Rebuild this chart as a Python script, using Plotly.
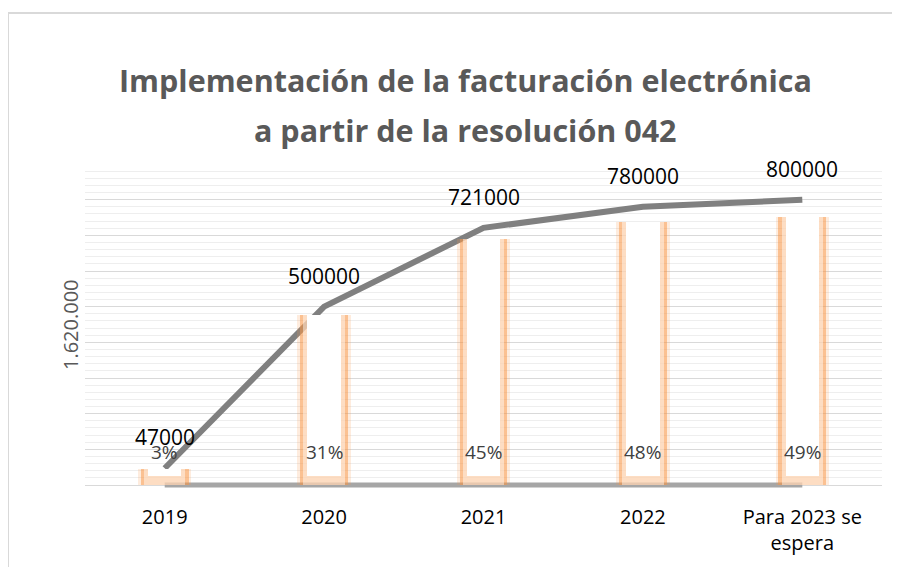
import plotly.graph_objects as go

categories = ["2019", "2020", "2021", "2022", "Para 2023 se<br>espera"]
invoices = [47000, 500000, 721000, 780000, 800000]
share_pct = [0.03, 0.31, 0.45, 0.48, 0.49]
share_labels = ["3%", "31%", "45%", "48%", "49%"]
baseline_vals = [0, 0, 0, 0, 0]
title_lines = ["Implementación de la facturación electrónica",
               "a partir de la resolución 042"]
y_title = "1.620.000"

font_main = "Open Sans, Calibri, Carlito, DejaVu Sans, sans-serif"

# plot area in page px 85..882 x 164..489 (zero level at 485)
PX0, PX1, PY0, PY1 = 85, 882, 164, 489


def px(x):
    return (x - PX0) / (PX1 - PX0)


def py(y):
    return (PY1 - y) / (PY1 - PY0)


fig = go.Figure()

# soft orange glow bars
fig.add_trace(go.Bar(
    x=categories, y=share_pct, yaxis="y2", width=0.335,
    marker=dict(color="rgba(247,150,70,0.18)", line=dict(width=0)),
    hoverinfo="skip", showlegend=False,
))
fig.add_trace(go.Bar(
    x=categories, y=share_pct, yaxis="y2", width=0.30,
    marker=dict(color="rgba(247,150,70,0.5)", line=dict(width=0)),
    hoverinfo="skip", showlegend=False,
))
fig.add_trace(go.Bar(
    x=categories, y=share_pct, yaxis="y2", width=0.26,
    marker=dict(color="rgba(255,255,255,0.45)", line=dict(width=0)),
    hoverinfo="skip", showlegend=False,
))
inner_base = 0.016
fig.add_trace(go.Bar(
    x=categories, y=[v - inner_base for v in share_pct], base=inner_base,
    yaxis="y2", width=0.21,
    marker=dict(color="white", line=dict(width=0)),
    hoverinfo="skip", showlegend=False,
))

# grey baseline series
fig.add_trace(go.Scatter(
    x=categories, y=baseline_vals, mode="lines",
    line=dict(color="#A6A6A6", width=5), showlegend=False, hoverinfo="skip",
))

# count line
fig.add_trace(go.Scatter(
    x=categories, y=invoices, mode="lines",
    line=dict(color="#808080", width=6),
    showlegend=False,
))

for i, v in enumerate(invoices):
    fig.add_annotation(x=i, y=v, xref="x", yref="y", text=str(v),
                       showarrow=False, yshift=31, yanchor="middle",
                       font=dict(family=font_main, size=21, color="#000000"))

for i, lab in enumerate(share_labels):
    fig.add_annotation(x=i, y=py(452), xref="x", yref="paper",
                       text=lab, showarrow=False, yanchor="middle",
                       xanchor="center",
                       font=dict(family=font_main, size=19, color="#404040"))

# title (two lines)
fig.add_annotation(x=px(465), y=py(80), xref="paper", yref="paper",
                   text="<b>" + title_lines[0] + "</b>", showarrow=False,
                   xanchor="center", yanchor="middle",
                   font=dict(family=font_main, size=30.5, color="#595959"))
fig.add_annotation(x=px(465), y=py(130), xref="paper", yref="paper",
                   text="<b>" + title_lines[1] + "</b>", showarrow=False,
                   xanchor="center", yanchor="middle",
                   font=dict(family=font_main, size=30.5, color="#595959"))

# y axis title
fig.add_annotation(x=px(70), y=py(325), xref="paper", yref="paper",
                   text=y_title, showarrow=False, textangle=-90,
                   xanchor="center", yanchor="middle",
                   font=dict(family=font_main, size=20, color="#595959"))

# chart border
fig.add_shape(type="rect", xref="paper", yref="paper",
              x0=px(8), x1=1.08, y0=-0.5, y1=py(13),
              line=dict(color="#D9D9D9", width=2), fillcolor="rgba(0,0,0,0)",
              layer="below")

fig.update_layout(
    width=900, height=567,
    margin=dict(l=77, r=26, t=156, b=86),
    paper_bgcolor="white", plot_bgcolor="white",
    barmode="overlay", bargap=0,
    xaxis=dict(type="category", range=[-0.5, 4.5], showgrid=False,
               showline=False, ticks="", zeroline=False,
               ticklabelstandoff=14,
               tickfont=dict(family=font_main, size=20, color="#000000")),
    yaxis=dict(range=[-11200, 900000], tick0=0, dtick=100000, showticklabels=False,
               showgrid=True, gridcolor="#D9D9D9", gridwidth=1,
               zeroline=False, showline=False,
               minor=dict(tick0=0, dtick=20000, showgrid=True, gridcolor="#EEEEEE", gridwidth=1)),
    yaxis2=dict(range=[-0.0073, 0.586], overlaying="y", side="right", visible=False,
                showgrid=False),
)

fig.write_html("out.html")
